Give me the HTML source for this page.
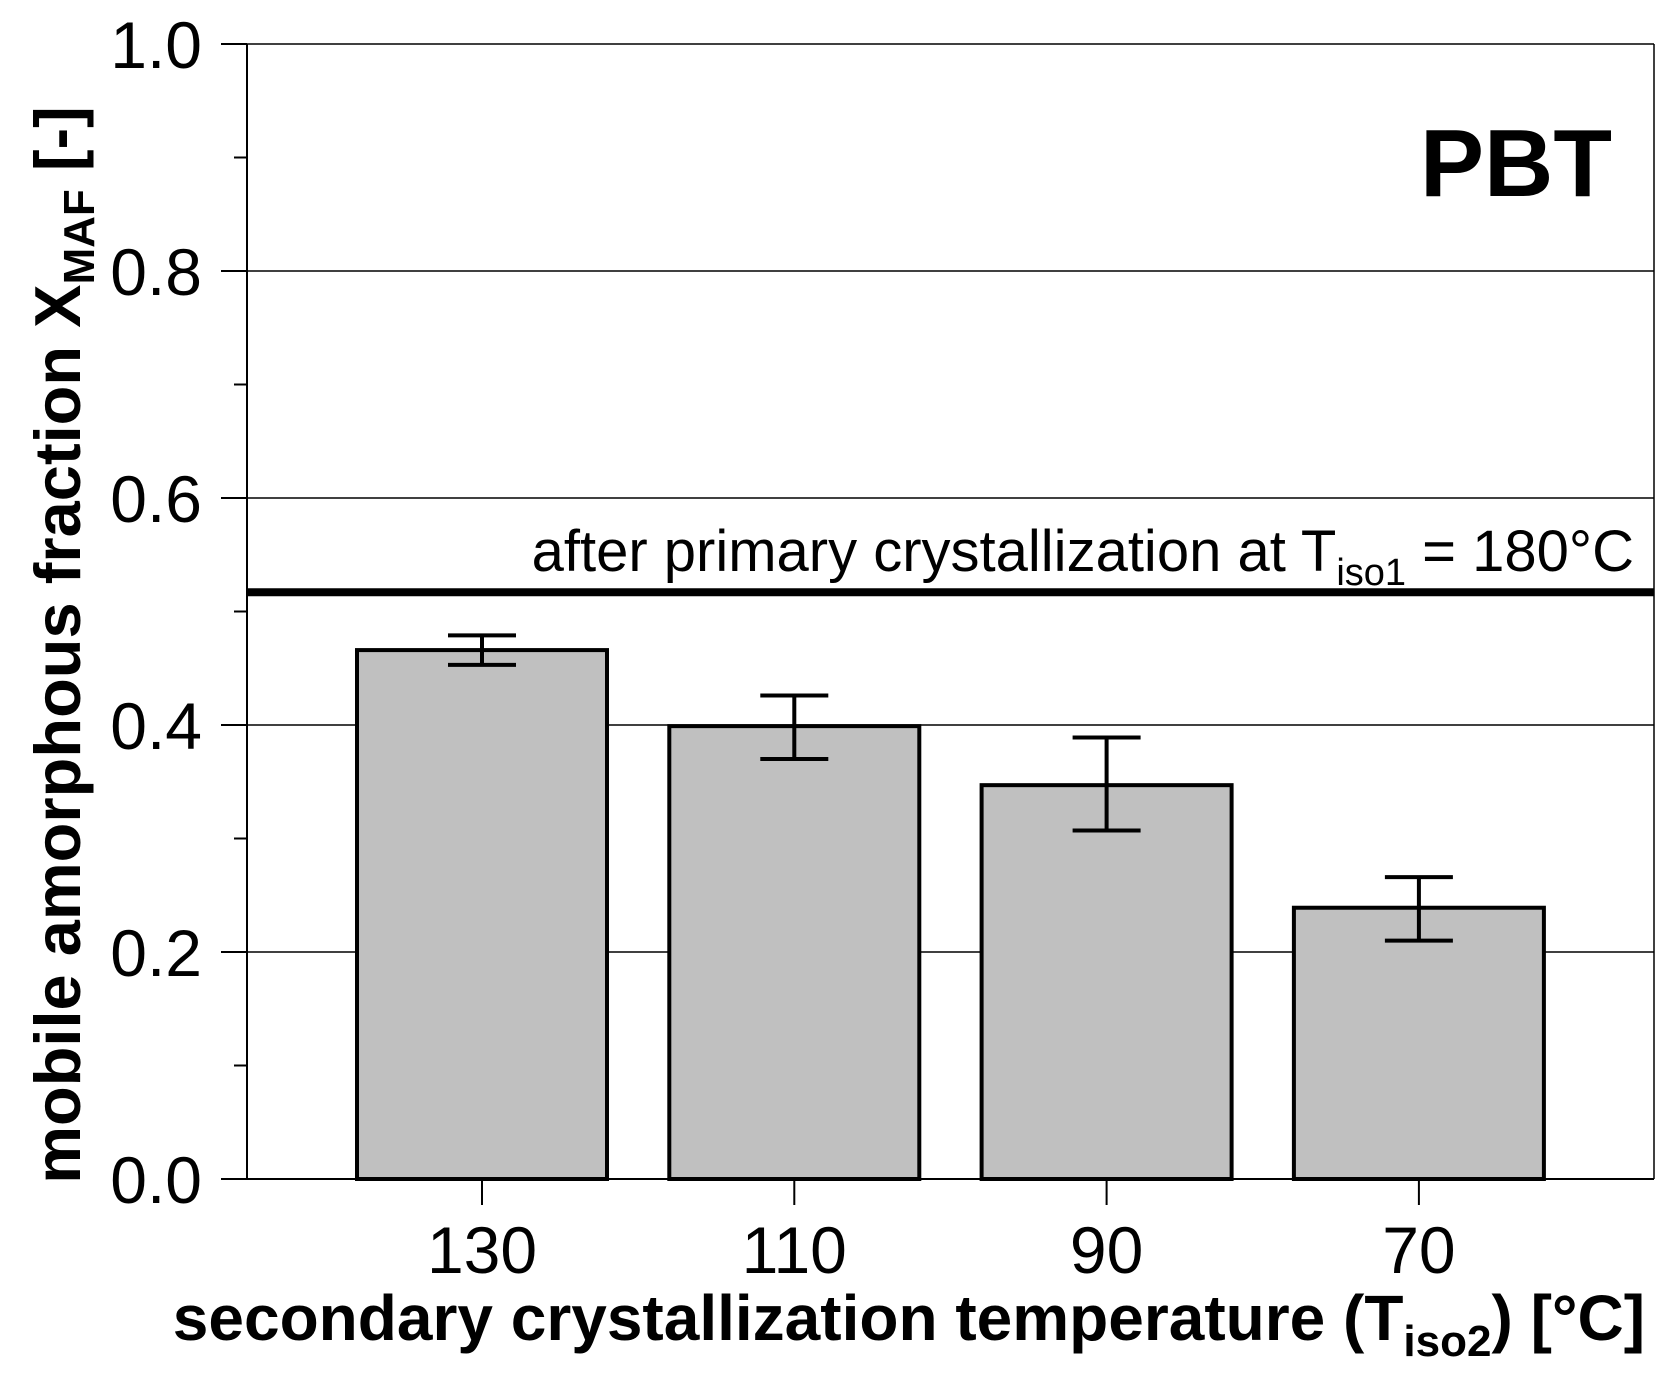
<!DOCTYPE html>
<html><head><meta charset="utf-8"><style>
html,body{margin:0;padding:0;background:#fff;}
svg{display:block;font-family:"Liberation Sans",Arial,sans-serif;}
</style></head><body>
<svg id="chart" width="1680" height="1388" viewBox="0 0 1680 1388"></svg>
<script>
const categories = ["130","110","90","70"];
const values = [0.466, 0.399, 0.347, 0.239];
const errLow = [0.453, 0.370, 0.307, 0.210];
const errHigh = [0.479, 0.426, 0.389, 0.266];
const yTicks = ["0.0","0.2","0.4","0.6","0.8","1.0"];
const refValue = [0.517];

const NS="http://www.w3.org/2000/svg";
const svg=document.getElementById('chart');
const L=247,R=1654,T=44,B=1179;
const y=v=>B-(v/1.0)*(B-T);
const x=i=>482+i*312.3;
const bw=250;
function mk(tag,attrs,parent){const e=document.createElementNS(NS,tag);for(const k in attrs)e.setAttribute(k,attrs[k]);(parent||svg).appendChild(e);return e;}

yTicks.forEach((t,i)=>{const v=parseFloat(t);
 if(v>0){const g=mk('line',{x1:L,x2:R,y1:y(v),y2:y(v),stroke:'#000','stroke-width':1.5});
 
 }
 const tk=mk('line',{x1:L-26,x2:L,y1:y(v),y2:y(v),stroke:'#000','stroke-width':2});
 
 
 const lb=mk('text',{x:202,y:y(v)+24,'text-anchor':'end','font-size':66});
 lb.textContent=t;
 
 
});
for(let k=0;k<5;k++){const v=0.1+k*0.2;
 const m=mk('line',{x1:L-13,x2:L,y1:y(v),y2:y(v),stroke:'#000','stroke-width':2});
 
 }
const ya=mk('line',{x1:L,x2:L,y1:T,y2:B,stroke:'#000','stroke-width':2});


const rb=mk('line',{x1:R,x2:R,y1:T,y2:B,stroke:'#000','stroke-width':1.5});


const xa=mk('line',{x1:L,x2:R,y1:B,y2:B,stroke:'#000','stroke-width':2});



categories.forEach((c,i)=>{
 const cx=x(i);
 const r=mk('rect',{x:cx-bw/2,y:y(values[i]),width:bw,height:B-y(values[i]),fill:'#c0c0c0',stroke:'#000','stroke-width':4});
 
 
 const e=mk('path',{d:`M${cx-34},${y(errHigh[i])}H${cx+34}M${cx},${y(errHigh[i])}V${y(errLow[i])}M${cx-34},${y(errLow[i])}H${cx+34}`,stroke:'#000','stroke-width':4,fill:'none'});
 
 
 const tk=mk('line',{x1:cx,x2:cx,y1:B,y2:B+26,stroke:'#000','stroke-width':2});
 
 
 const lb=mk('text',{x:cx,y:1273,'text-anchor':'middle','font-size':66});
 lb.textContent=c;
 
 
});
const rl=mk('line',{x1:L,x2:R,y1:y(refValue[0]),y2:y(refValue[0]),stroke:'#000','stroke-width':8});


</script>
<svg width="1680" height="1388" style="position:absolute;left:0;top:0">
<text x="1634" y="571" text-anchor="end" font-size="58" font-family="Liberation Sans,sans-serif">after primary crystallization at T<tspan font-size="38" dy="14">iso1</tspan><tspan dy="-14"> = 180°C</tspan></text>
<text x="1612" y="196" text-anchor="end" font-size="96" font-weight="bold" font-family="Liberation Sans,sans-serif">PBT</text>
<text x="1645" y="1340" text-anchor="end" font-size="64" font-weight="bold" font-family="Liberation Sans,sans-serif">secondary crystallization temperature (T<tspan font-size="44" dy="16">iso2</tspan><tspan dy="-16">) [°C]</tspan></text>
<text transform="translate(80,645) rotate(-90)" text-anchor="middle" font-size="65" font-weight="bold" font-family="Liberation Sans,sans-serif">mobile amorphous fraction X<tspan font-size="44" dy="14">MAF</tspan><tspan dy="-14"> [-]</tspan></text>
</svg>
</body></html>
